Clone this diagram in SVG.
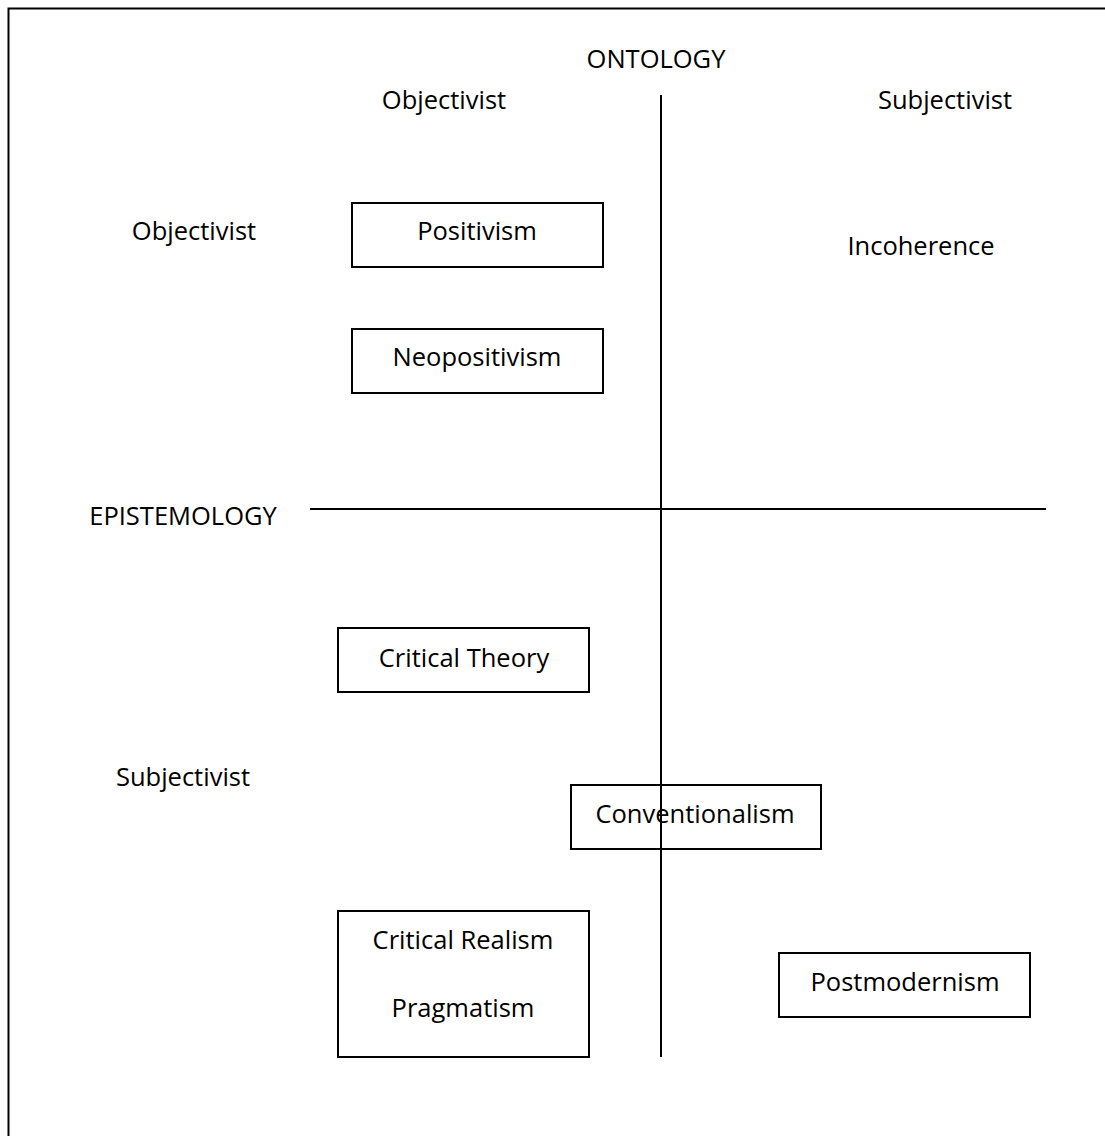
<svg xmlns="http://www.w3.org/2000/svg" width="1105" height="1136" viewBox="0 0 1105 1136">
  <style>
    .frame { fill: none; stroke: #000; stroke-width: 2; }
    .box { fill: #fff; stroke: #000; stroke-width: 2; }
    .axis { stroke: #000; stroke-width: 2; fill: none; }
    text { font-family: "Open Sans", "Noto Sans", "Liberation Sans", sans-serif; font-size: 25.5px; fill: #000; text-anchor: middle; }
  </style>
  <rect width="1105" height="1136" fill="#fff"/>
  <!-- outer frame, open at right and bottom -->
  <path class="frame" d="M8.5 1136 V8.5 H1105"/>

  <!-- axis labels -->
  <g id="labels">
    <text x="656" y="68">ONTOLOGY</text>
    <text x="444" y="109">Objectivist</text>
    <text x="945" y="109">Subjectivist</text>
    <text x="194" y="240">Objectivist</text>
    <text x="921" y="255">Incoherence</text>
    <text x="183" y="525">EPISTEMOLOGY</text>
    <text x="183" y="786">Subjectivist</text>
  </g>

  <g id="node-positivism">
    <rect class="box" x="352" y="203" width="251" height="64"/>
    <text x="477" y="240">Positivism</text>
  </g>
  <g id="node-neopositivism">
    <rect class="box" x="352" y="329" width="251" height="64"/>
    <text x="477" y="366">Neopositivism</text>
  </g>
  <g id="node-critical-theory">
    <rect class="box" x="338" y="628" width="251" height="64"/>
    <text x="464" y="667">Critical Theory</text>
  </g>
  <g id="node-conventionalism">
    <rect class="box" x="571" y="785" width="250" height="64"/>
    <text x="695" y="823">Conventionalism</text>
  </g>
  <g id="node-critical-realism-pragmatism">
    <rect class="box" x="338" y="911" width="251" height="146"/>
    <text x="463" y="949">Critical Realism</text>
    <text x="463" y="1017">Pragmatism</text>
  </g>
  <g id="node-postmodernism">
    <rect class="box" x="779" y="953" width="251" height="64"/>
    <text x="905" y="991">Postmodernism</text>
  </g>

  <!-- quadrant axes drawn over the boxes -->
  <g id="connectors">
    <line class="axis" x1="661" y1="95" x2="661" y2="1057"/>
    <line class="axis" x1="310" y1="509" x2="1046" y2="509"/>
  </g>
</svg>
